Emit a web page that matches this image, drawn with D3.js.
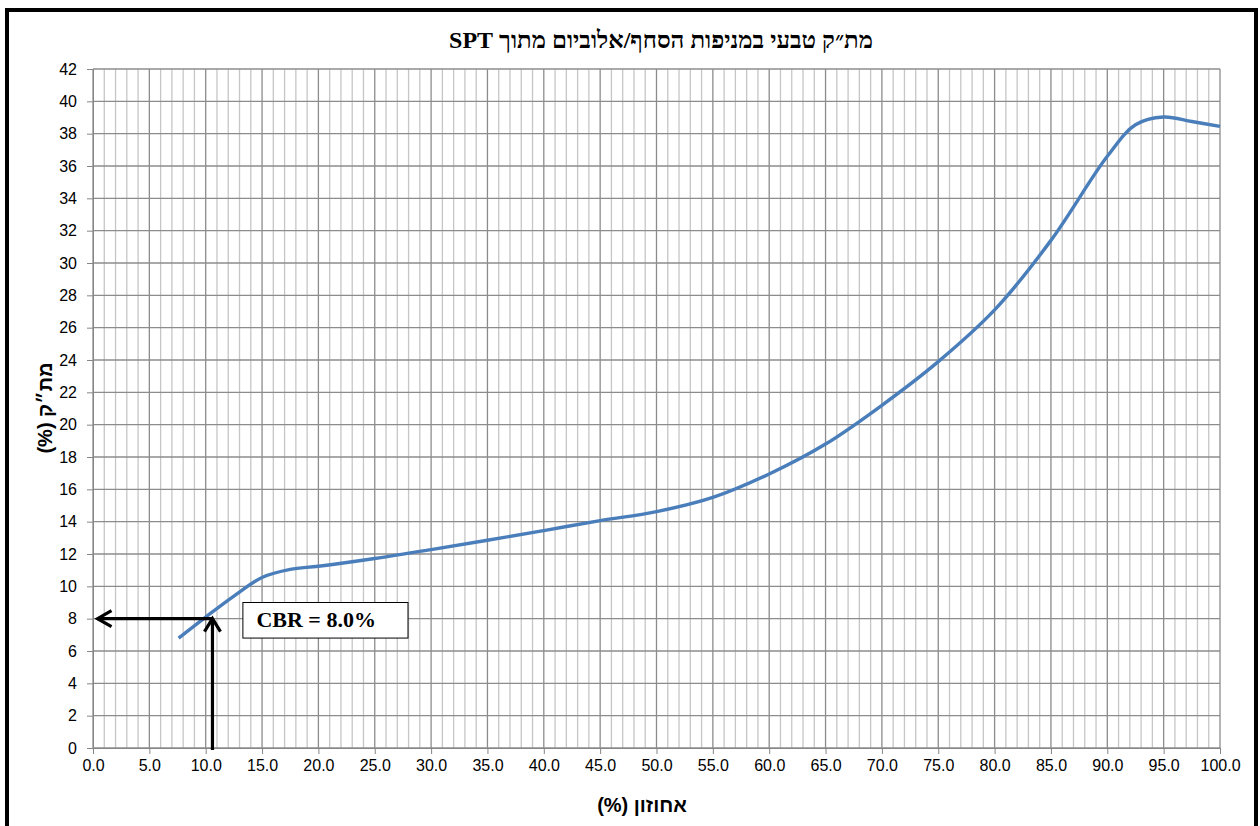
<!DOCTYPE html>
<html>
<head>
<meta charset="utf-8">
<script src="https://cdn.jsdelivr.net/npm/d3@7"></script>
<style>
body { margin: 0; background: #fff; }
.tick text { font-family: Arial, "Liberation Sans", sans-serif; font-size: 16px; fill: #000; }
.axis path, .axis line { stroke: #868686; }
</style>
</head>
<body>
<script>
// curve
var percentile = [7.6, 10, 12.5, 15, 17.5, 20, 25, 30, 35, 40, 45, 50, 55, 60, 65, 70, 75, 80, 85, 90, 92.5, 95, 97.5, 100]
var moisture = [6.8, 8.1, 9.4, 10.55, 11.05, 11.24, 11.72, 12.27, 12.85, 13.45, 14.06, 14.62, 15.5, 16.95, 18.8, 21.2, 23.9, 27.1, 31.4, 36.6, 38.55, 39.03, 38.75, 38.45]

var xTicks = [0, 5, 10, 15, 20, 25, 30, 35, 40, 45, 50, 55, 60, 65, 70, 75, 80, 85, 90, 95, 100]
var yTicks = [0, 2, 4, 6, 8, 10, 12, 14, 16, 18, 20, 22, 24, 26, 28, 30, 32, 34, 36, 38, 40, 42]

// CBR read-off point
var cbrX = 10.6
var cbrY = 8.0
var cbrLabel = "CBR = 8.0%"

var titleText = "מת״ק טבעי במניפות הסחף/אלוביום מתוך SPT"
var xTitle = "אחוזון (%)"
var yTitle = "מת״ק (%)"

var data = percentile.map(function (p, i) { return {x: p, y: moisture[i]}; });

// set the dimensions and margins of the graph
var W = 1260, H = 826;
var margin = {top: 69, right: 40, bottom: 78, left: 93},
    width = 1220 - margin.left,
    height = 748 - margin.top;

var svg = d3.select("body").append("svg")
    .attr("width", W)
    .attr("height", H);

// outer frame
svg.append("rect")
    .attr("x", 7).attr("y", 10)
    .attr("width", 1249).attr("height", 840)
    .attr("fill", "none")
    .attr("stroke", "#000")
    .attr("stroke-width", 4);

var g = svg.append("g")
    .attr("transform", "translate(" + margin.left + "," + margin.top + ")");

// set the ranges
var x = d3.scaleLinear().domain([0, 100]).range([0, width]);
var y = d3.scaleLinear().domain([0, 42]).range([height, 0]);

// minor vertical grid
g.append("g").selectAll("line")
    .data(d3.range(0, 101, 1).filter(function (d) { return d % 5 !== 0; }))
    .enter().append("line")
    .attr("x1", function (d) { return x(d); }).attr("x2", function (d) { return x(d); })
    .attr("y1", 0).attr("y2", height)
    .attr("stroke", "#c6c6c6").attr("stroke-width", 1.3);

// major vertical grid
g.append("g").selectAll("line")
    .data(xTicks)
    .enter().append("line")
    .attr("x1", function (d) { return x(d); }).attr("x2", function (d) { return x(d); })
    .attr("y1", 0).attr("y2", height)
    .attr("stroke", "#8c8c8c").attr("stroke-width", 1.3);

// horizontal grid
g.append("g").selectAll("line")
    .data(yTicks)
    .enter().append("line")
    .attr("x1", 0).attr("x2", width)
    .attr("y1", function (d) { return y(d); }).attr("y2", function (d) { return y(d); })
    .attr("stroke", "#8c8c8c").attr("stroke-width", 1.3);

// axes
g.append("g")
    .attr("class", "axis")
    .attr("transform", "translate(0," + height + ")")
    .call(d3.axisBottom(x).tickValues(xTicks).tickFormat(d3.format(".1f")).tickSizeOuter(0).tickSize(6).tickPadding(6));

g.append("g")
    .attr("class", "axis")
    .call(d3.axisLeft(y).tickValues(yTicks).tickSizeOuter(0).tickSize(6).tickPadding(10));

// the curve
var valueline = d3.line()
    .x(function (d) { return x(d.x); })
    .y(function (d) { return y(d.y); })
    .curve(d3.curveCatmullRom.alpha(0.5));

g.append("path")
    .datum(data)
    .attr("fill", "none")
    .attr("stroke", "#4a7ebb")
    .attr("stroke-width", 3.4)
    .attr("d", valueline);

// CBR arrows
var arrowStyle = function (sel) {
    return sel.attr("fill", "none").attr("stroke", "#000")
        .attr("stroke-width", 3.2).attr("stroke-linejoin", "miter");
};
var px = x(cbrX), py = y(cbrY);
arrowStyle(g.append("path")
    .attr("d", "M" + px + "," + (height + 2) + "V" + py));
arrowStyle(g.append("path")
    .attr("d", "M" + (px - 8) + "," + (py + 13) + "L" + px + "," + py + "L" + (px + 8) + "," + (py + 13)));
var leftEnd = x(0.4);
arrowStyle(g.append("path")
    .attr("d", "M" + px + "," + py + "H" + leftEnd));
arrowStyle(g.append("path")
    .attr("d", "M" + (leftEnd + 14) + "," + (py - 8) + "L" + leftEnd + "," + py + "L" + (leftEnd + 14) + "," + (py + 8)));

// CBR label box
g.append("rect")
    .attr("x", x(13.3)).attr("y", y(9.0))
    .attr("width", x(27.95) - x(13.3)).attr("height", y(6.8) - y(9.0))
    .attr("fill", "#fff").attr("stroke", "#000").attr("stroke-width", 1);
g.append("text")
    .attr("x", x(19.8)).attr("y", y(7.9) + 7)
    .attr("text-anchor", "middle")
    .style("font-family", "'Times New Roman', 'Liberation Serif', serif")
    .style("font-weight", "bold").style("font-size", "22px")
    .text(cbrLabel);

// title
svg.append("text")
    .attr("x", 661).attr("y", 48)
    .attr("text-anchor", "middle")
    .attr("direction", "rtl")
    .style("font-family", "'Times New Roman', 'Liberation Serif', serif")
    .style("font-weight", "bold").style("font-size", "24px")
    .text(titleText);

// axis titles
svg.append("text")
    .attr("x", 642).attr("y", 812)
    .attr("text-anchor", "middle")
    .attr("direction", "rtl")
    .style("font-family", "Arial, 'Liberation Sans', 'DejaVu Sans', sans-serif")
    .style("font-weight", "bold").style("font-size", "20px")
    .text(xTitle);

svg.append("text")
    .attr("transform", "translate(52,408) rotate(-90)")
    .attr("text-anchor", "middle")
    .attr("direction", "rtl")
    .style("font-family", "Arial, 'Liberation Sans', 'DejaVu Sans', sans-serif")
    .style("font-weight", "bold").style("font-size", "20px")
    .text(yTitle);
</script>
</body>
</html>
